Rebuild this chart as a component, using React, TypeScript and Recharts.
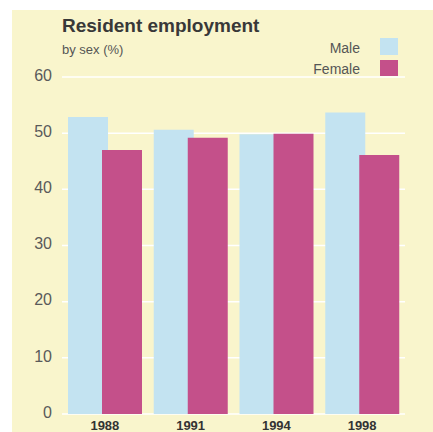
import { BarChart, Bar, XAxis, YAxis, CartesianGrid } from 'recharts';

const years = ['1988', '1991', '1994', '1998'];
const male = [52.9, 50.6, 49.8, 53.7];
const female = [47.0, 49.2, 49.9, 46.1];
const yTicks = [0, 10, 20, 30, 40, 50, 60];

const MALE_COLOR = '#c3e3f1';
const FEMALE_COLOR = '#c4508a';
const FONT = '"Liberation Sans", Arial, sans-serif';

const data = years.map((year, i) => ({ year, male: male[i], female: female[i] }));

export default function App() {
  return (
    <div style={{ position: 'absolute', left: 0, top: 0, width: 433, height: 432, background: '#fff', fontFamily: FONT }}>
      <div style={{ position: 'absolute', left: 12, top: 10, width: 421, height: 422, background: '#f9f5cc' }} />
      <BarChart
        width={433}
        height={432}
        data={data}
        margin={{ top: 77, right: 28, bottom: 0, left: 0 }}
        barSize={40}
        barGap={-6}
        style={{ position: 'absolute', left: 0, top: 0 }}
      >
        <CartesianGrid vertical={false} stroke="#ffffff" strokeWidth={1.5} />
        <XAxis
          dataKey="year"
          height={18}
          axisLine={false}
          tickLine={false}
          tickSize={0}
          tickMargin={7}
          tick={{ fontSize: 13, fontWeight: 'bold', fill: '#333', fontFamily: FONT }}
        />
        <YAxis
          width={62}
          domain={[0, 60]}
          ticks={yTicks}
          axisLine={false}
          tickLine={false}
          tickMargin={4}
          tick={{ fontSize: 16, fill: '#5a5a5a', fontFamily: FONT, dy: -2 }}
        />
        <Bar dataKey="male" fill={MALE_COLOR} isAnimationActive={false} />
        <Bar dataKey="female" fill={FEMALE_COLOR} isAnimationActive={false} />
      </BarChart>
      <div style={{ position: 'absolute', left: 62, top: 15, fontSize: 19, fontWeight: 'bold', color: '#383838' }}>
        Resident employment
      </div>
      <div style={{ position: 'absolute', left: 62, top: 42, fontSize: 13, color: '#555' }}>by sex (%)</div>
      <div style={{ position: 'absolute', right: 73, top: 40, fontSize: 14, color: '#555' }}>Male</div>
      <div style={{ position: 'absolute', left: 380, top: 38, width: 18, height: 17, background: MALE_COLOR }} />
      <div style={{ position: 'absolute', right: 73, top: 61, fontSize: 14, color: '#555' }}>Female</div>
      <div style={{ position: 'absolute', left: 380, top: 60, width: 18, height: 16, background: FEMALE_COLOR }} />
    </div>
  );
}
